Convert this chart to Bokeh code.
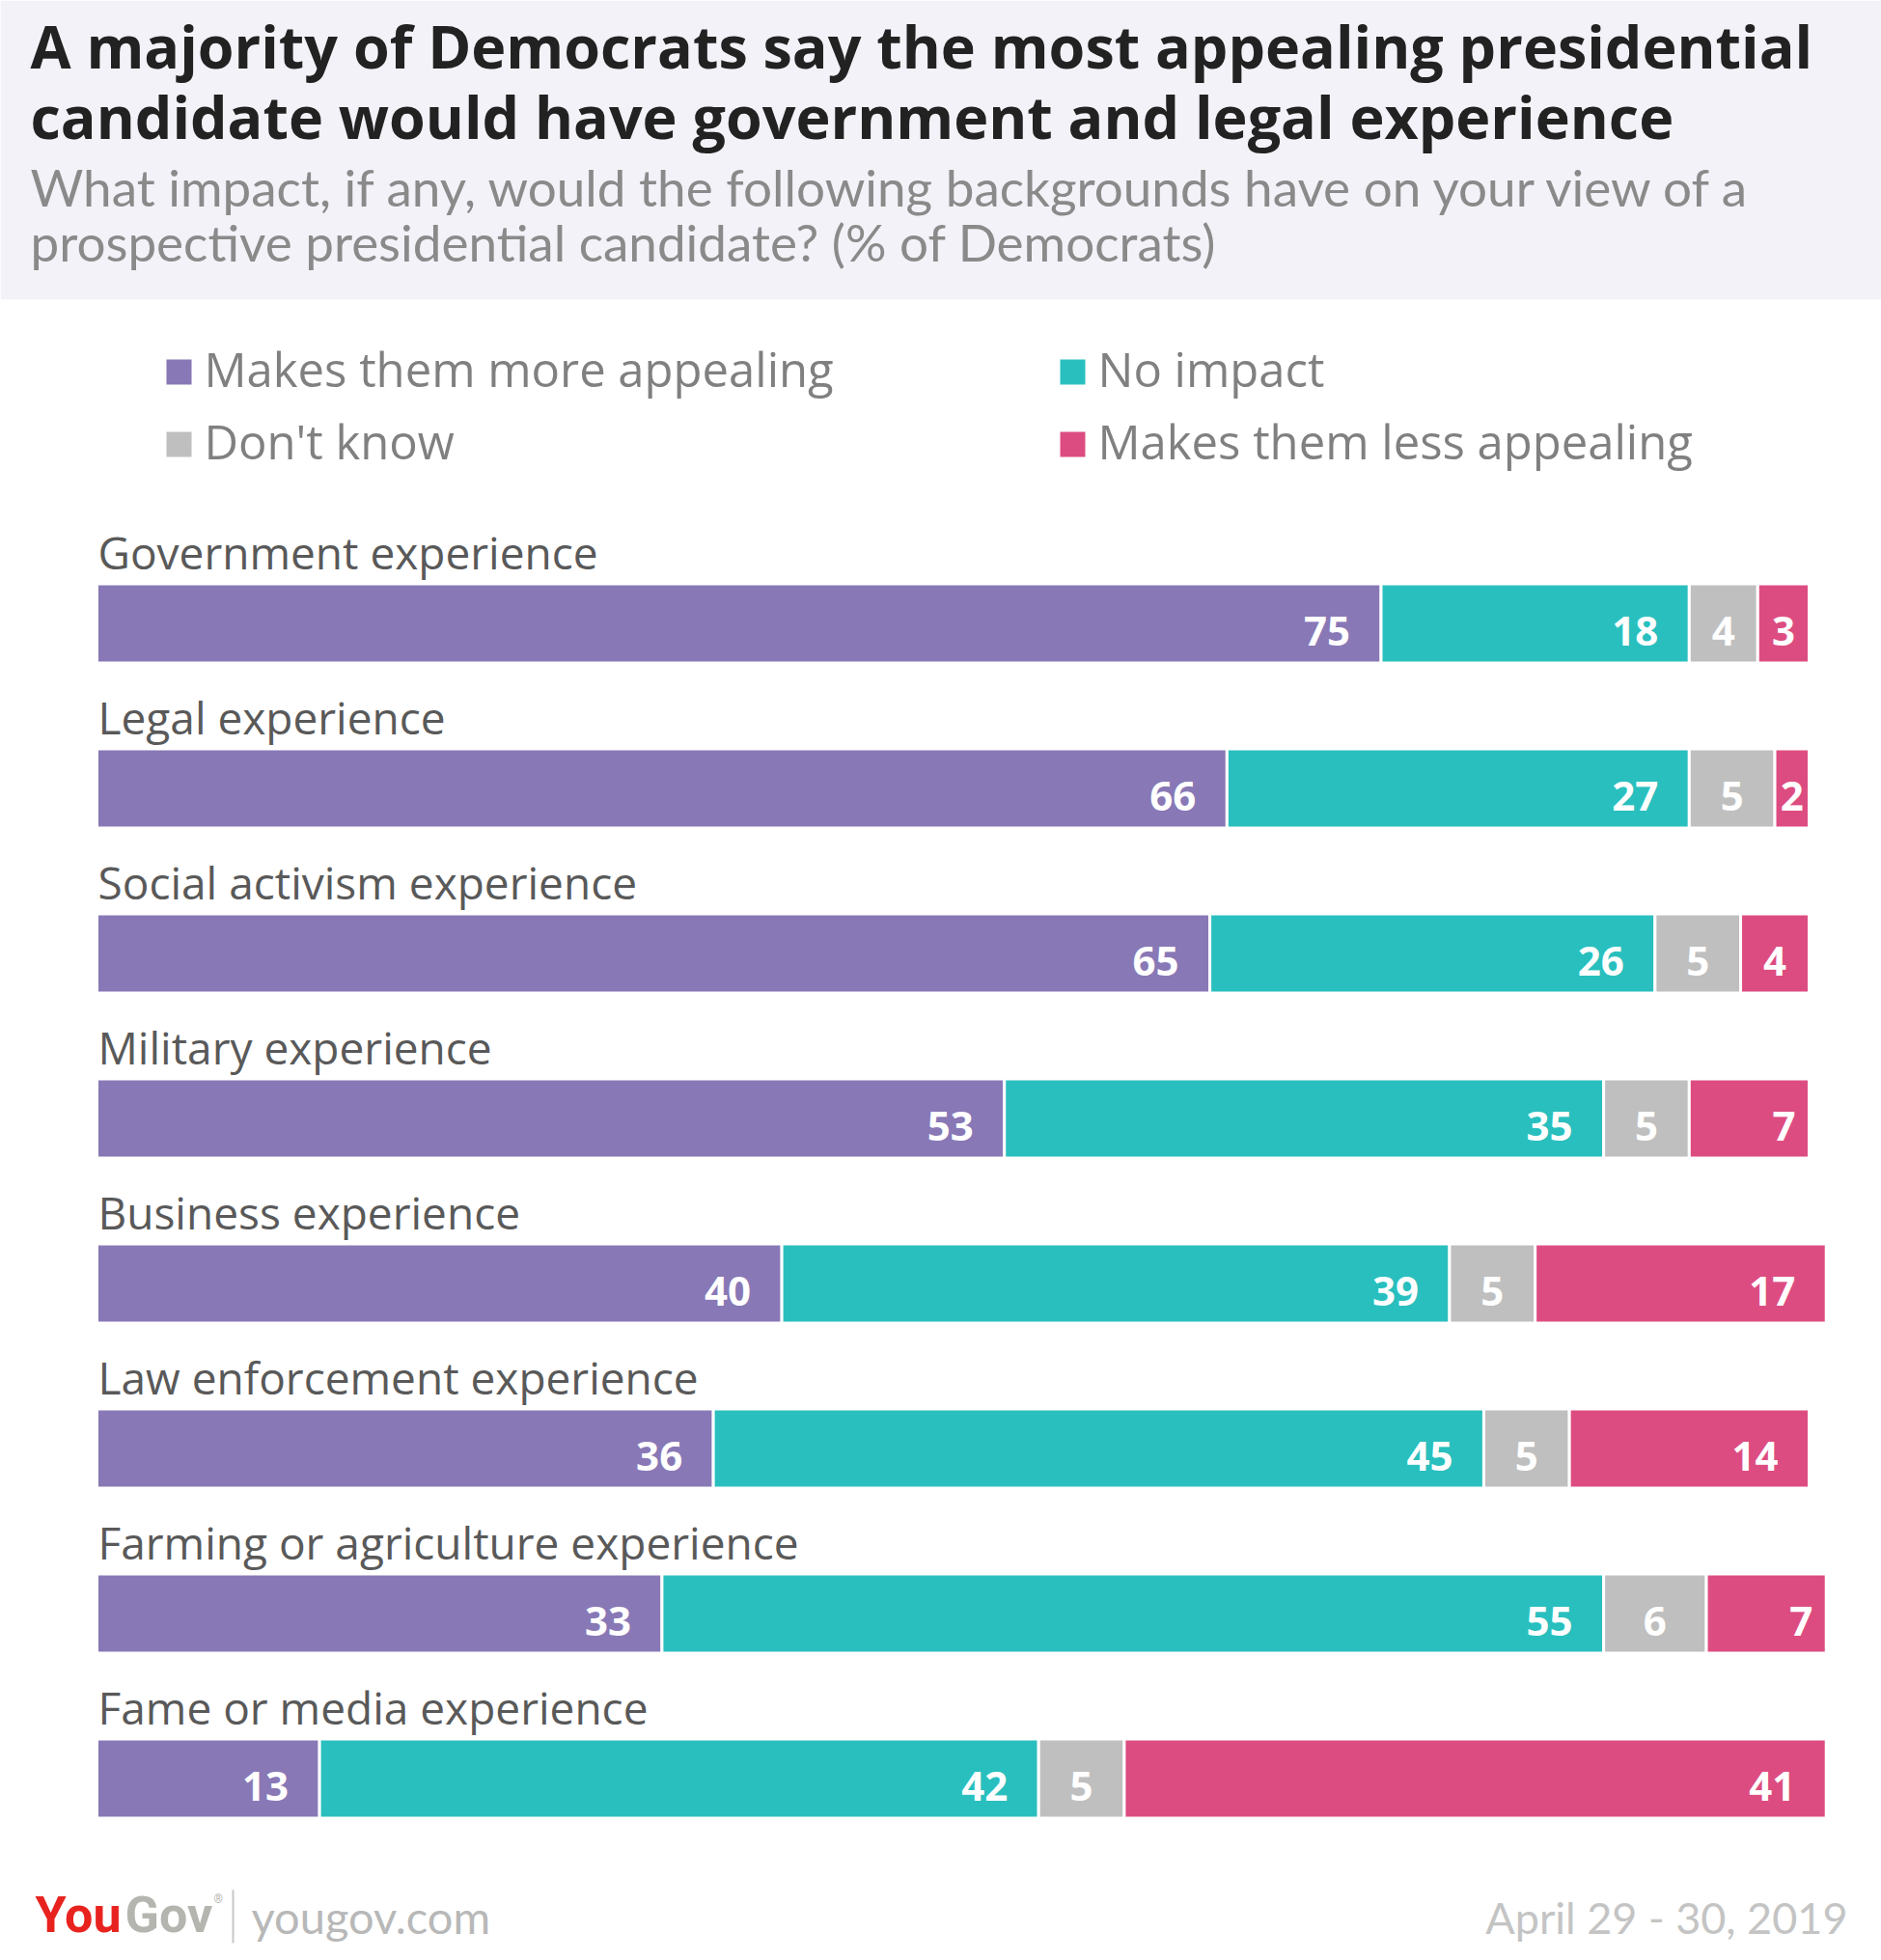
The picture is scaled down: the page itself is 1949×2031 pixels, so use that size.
import numpy as np
from bokeh.plotting import figure
from bokeh.models import Range1d
from bokeh.core.properties import value
from bokeh.embed import file_html
from bokeh.resources import INLINE

# ---------------- data ----------------
title_lines = ["A majority of Democrats say the most appealing presidential",
               "candidate would have government and legal experience"]
subtitle_lines = ["What impact, if any, would the following backgrounds have on your view of a",
                  "prospective presidential candidate? (% of Democrats)"]
legend_labels = ["Makes them more appealing", "No impact", "Don't know", "Makes them less appealing"]
categories = ["Government experience", "Legal experience", "Social activism experience",
              "Military experience", "Business experience", "Law enforcement experience",
              "Farming or agriculture experience", "Fame or media experience"]
more_appealing = [75, 66, 65, 53, 40, 36, 33, 13]
no_impact = [18, 27, 26, 35, 39, 45, 55, 42]
dont_know = [4, 5, 5, 5, 5, 5, 6, 5]
less_appealing = [3, 2, 4, 7, 17, 14, 7, 41]
source_site = "yougov.com"
date_text = "April 29 - 30, 2019"

colors = ["#8878b6", "#29bfbe", "#bfbfbf", "#dd4c81"]

# ---------------- layout ----------------
W, H = 1949, 2031
X0, U = 100.0, 17.74          # page px of 0%, px per percentage point
K = 0.37                      # baseline calibration (fraction of font size)


def px(x):
    return (x - X0) / U


def bl(baseline, fs):
    return baseline - K * fs


p = figure(width=W, height=H, output_backend="svg", toolbar_location=None,
           x_range=Range1d(px(0), px(W)), y_range=Range1d(H, 0),
           x_axis_location=None, y_axis_location=None, min_border=0,
           outline_line_color=None, background_fill_color="white",
           border_fill_color="white")
p.grid.visible = False

# header band
p.quad(left=[px(0)], right=[px(W)], top=[0], bottom=[310],
       fill_color="#f3f2f8", line_color=None)

p.text(x=[px(31)] * 2, y=[bl(70, 61), bl(143, 61)], text=title_lines,
       text_font=value("Open Sans"), text_font_style="bold", text_font_size="61px",
       text_color="#222222", text_baseline="alphabetic", text_align="left")
p.text(x=[px(31)] * 2, y=[bl(213, 53), bl(270, 53)], text=subtitle_lines,
       text_font=value("Lato"), text_font_size="53px",
       text_color="#8a8a8a", text_baseline="alphabetic", text_align="left")

# legend
leg_sq_x = [172, 1098, 172, 1098]
leg_base = [400, 400, 475, 475]
p.quad(left=[px(x) for x in leg_sq_x], right=[px(x + 26) for x in leg_sq_x],
       top=[b - 28 for b in leg_base], bottom=[b - 2 for b in leg_base],
       fill_color=colors, line_color=None)
p.text(x=[px(x + 39) for x in leg_sq_x], y=[bl(b, 49) for b in leg_base], text=legend_labels,
       text_font=value("Open Sans"), text_font_size="49px", text_color="#808080",
       text_baseline="alphabetic", text_align="left")

# bars
n = len(categories)
centers = [645.5 + 171 * i for i in range(n)]
series = [more_appealing, no_impact, dont_know, less_appealing]
left = np.zeros(n)
lab_x, lab_y, lab_t, lab_a = [], [], [], []
for s, col in zip(series, colors):
    vals = np.array(s, dtype=float)
    right = left + vals
    p.hbar(y=centers, left=left, right=right, height=82, fill_color=col,
           line_color="white", line_width=3)
    for i in range(n):
        v = s[i]
        if v >= 10:
            lab_x.append(right[i] - 32 / U); lab_a.append("right")
        elif v >= 7:
            lab_x.append(right[i] - 14 / U); lab_a.append("right")
        else:
            lab_x.append((left[i] + right[i]) / 2); lab_a.append("center")
        lab_y.append(bl(centers[i] + 24, 42))
        lab_t.append(str(v))
    left = right

p.text(x=lab_x, y=lab_y, text=lab_t, text_align=lab_a,
       text_font=value("Open Sans"), text_font_style="bold", text_font_size="42px",
       text_color="white", text_baseline="alphabetic")

p.text(x=[px(101)] * n, y=[bl(c - 57, 46) for c in centers], text=categories,
       text_font=value("Open Sans"), text_font_size="46px", text_color="#595959",
       text_baseline="alphabetic", text_align="left")

# footer
p.text(x=[px(36)], y=[bl(2003, 52)], text=["You"], text_font=value("Roboto"),
       text_font_style="bold", text_font_size="52px", text_color="#e8231f",
       text_baseline="alphabetic")
p.text(x=[px(129)], y=[bl(2003, 52)], text=["Gov"], text_font=value("Roboto"),
       text_font_style="bold", text_font_size="52px", text_color="#b5b5b0",
       text_baseline="alphabetic")
p.text(x=[px(221)], y=[bl(1972, 12)], text=["®"], text_font=value("Roboto"),
       text_font_size="12px", text_color="#b5b5b0", text_baseline="alphabetic")
p.segment(x0=[px(241)], x1=[px(241)], y0=[1958], y1=[2013], line_color="#c8c8c8", line_width=2)
p.text(x=[px(260)], y=[bl(2003, 47)], text=[source_site], text_font=value("Lato"),
       text_font_size="47px", text_color="#b8b8b8", text_baseline="alphabetic")
p.text(x=[px(1914)], y=[bl(2003, 45)], text=[date_text], text_font=value("Lato"),
       text_font_size="45px", text_color="#c4c4c4", text_baseline="alphabetic",
       text_align="right")

open("out.html", "w").write(file_html(p, INLINE))
